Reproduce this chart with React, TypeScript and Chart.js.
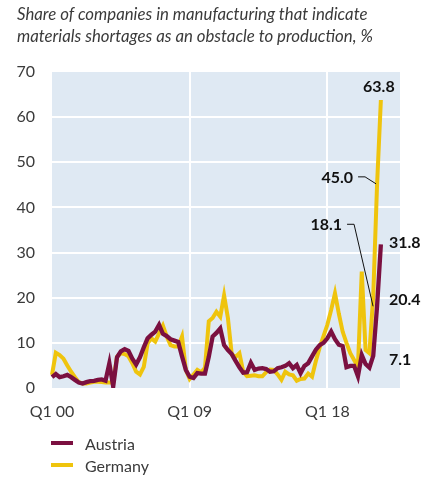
import React, { useEffect, useRef } from "react";
import { Chart, registerables } from "chart.js";

Chart.register(...registerables);

// ---- data ----
const startYear = 2000;
const quarterCount = 92; // Q1 2000 .. Q4 2022 axis range
const xTickLabels = ["Q1 00", "Q1 09", "Q1 18"];
const yTickValues = [0, 10, 20, 30, 40, 50, 60, 70];
const seriesNames = ["Austria", "Germany"];

const austria = [
  2.4, 3.1, 2.4, 2.6, 2.9, 2.4, 1.8, 1.2, 1.0, 1.3,
  1.5, 1.6, 1.8, 1.9, 1.6, 5.5, 0.3, 6.8, 8.1, 8.6,
  8.2, 6.5, 5.2, 6.8, 9.0, 11.0, 11.8, 12.5, 14.0, 12.0,
  11.5, 10.8, 10.5, 10.2, 7.0, 4.0, 2.5, 2.2, 3.3, 3.2,
  3.2, 6.9, 11.4, 12.2, 13.2, 9.5, 8.4, 7.5, 6.0, 4.6,
  3.4, 3.5, 5.6, 4.0, 4.3, 4.4, 4.2, 3.6, 3.7, 4.4,
  4.6, 4.9, 5.5, 4.4, 5.1, 3.3, 4.9, 5.5, 7.0, 8.5,
  9.5, 10.0, 11.0, 12.5, 10.8, 9.6, 9.3, 4.6, 4.9, 4.9,
  2.6, 7.3, 5.3, 4.5, 7.1, 18.1, 31.8,
];

const germany = [
  2.9, 7.8, 7.3, 6.5, 5.0, 3.6, 2.4, 1.3, 1.0, 1.0,
  1.2, 1.4, 1.4, 1.3, 1.2, 1.2, 1.2, 6.9, 7.7, 7.5,
  7.0, 5.5, 3.6, 3.0, 4.7, 9.9, 11.0, 10.3, 12.1, 13.8,
  11.4, 9.5, 9.2, 9.2, 11.4, 4.0, 2.0, 3.0, 4.0, 3.5,
  4.5, 14.8, 15.5, 16.9, 15.8, 20.5, 15.5, 7.5, 6.9, 7.7,
  3.6, 2.6, 2.7, 2.8, 2.6, 2.6, 3.5, 4.1, 4.0, 3.0,
  1.8, 3.6, 3.0, 2.8, 1.6, 2.0, 2.1, 3.2, 2.5, 6.0,
  9.0, 11.5, 14.0, 17.3, 21.0, 16.5, 12.5, 10.0, 7.7, 6.2,
  4.7, 25.8, 8.4, 7.7, 20.4, 45.0, 63.8,
];

const categories: string[] = [];
for (let i = 0; i < quarterCount; i++) {
  const yr = startYear + Math.floor(i / 4);
  categories.push(`Q${(i % 4) + 1} ${String(yr % 100).padStart(2, "0")}`);
}

// ---- styles ----
const AUSTRIA_COLOR = "#7b1040";
const GERMANY_COLOR = "#efc40d";
const PLOT_BG = "#dfe9f3";
const TEXT_COLOR = "#3a3a3a";
const FONT = "Lato, 'Open Sans', sans-serif";

const plotBgPlugin = {
  id: "plotBg",
  beforeDraw(chart: any) {
    const { ctx, chartArea } = chart;
    if (!chartArea) return;
    ctx.save();
    ctx.fillStyle = PLOT_BG;
    ctx.fillRect(chartArea.left, chartArea.top, chartArea.right - chartArea.left, chartArea.bottom - chartArea.top);
    ctx.restore();
  },
};

const annotationPlugin = {
  id: "valueLabels",
  afterDatasetsDraw(chart: any) {
    const { ctx, chartArea } = chart;
    const xs = chart.scales.x;
    const ys = chart.scales.y;
    const last = austria.length - 1;
    const px = (i: number) => xs.getPixelForValue(i);
    const py = (v: number) => ys.getPixelForValue(v);
    ctx.save();
    ctx.fillStyle = "#111";
    ctx.strokeStyle = "#111";
    ctx.lineWidth = 1;
    ctx.font = `bold 16px ${FONT}`;
    ctx.textBaseline = "middle";

    // Germany last value
    const gLast = germany[last];
    ctx.textAlign = "center";
    ctx.fillText(gLast.toFixed(1), px(last) - 2, py(gLast) - 13);

    // Germany previous quarter with leader
    const gPrev = germany[last - 1];
    let x0 = px(last - 1), y0 = py(gPrev);
    ctx.textAlign = "right";
    ctx.fillText(gPrev.toFixed(1), x0 - 24, y0 - 7);
    ctx.beginPath();
    ctx.moveTo(x0 - 19, y0 - 8);
    ctx.lineTo(x0 - 12, y0 - 8);
    ctx.lineTo(x0 - 1, y0 - 1);
    ctx.stroke();

    // Austria previous quarter with leader
    const aPrev = austria[last - 1];
    x0 = px(last - 1);
    y0 = py(aPrev);
    ctx.fillText(aPrev.toFixed(1), x0 - 35, y0 - 81);
    ctx.beginPath();
    ctx.moveTo(x0 - 30, y0 - 82);
    ctx.lineTo(x0 - 23, y0 - 82);
    ctx.lineTo(x0 - 4, y0);
    ctx.stroke();

    // right column labels
    ctx.textAlign = "left";
    const colX = chartArea.right - 11;
    ctx.fillText(austria[last].toFixed(1), colX, py(austria[last]) - 2);
    ctx.fillText(germany[last - 2].toFixed(1), colX, py(germany[last - 2]) + 4);
    ctx.fillText(austria[last - 2].toFixed(1), colX, py(austria[last - 2]) + 4);
    ctx.restore();
  },
};

export default function App() {
  const canvasRef = useRef<HTMLCanvasElement | null>(null);

  useEffect(() => {
    document.body.style.margin = "0";
    const canvas = canvasRef.current;
    if (!canvas) return;
    const chart = new Chart(canvas, {
      type: "line",
      data: {
        labels: categories,
        datasets: [
          {
            label: seriesNames[0],
            data: austria,
            borderColor: AUSTRIA_COLOR,
            backgroundColor: AUSTRIA_COLOR,
            borderWidth: 4.3,
            pointRadius: 0,
            tension: 0,
            borderJoinStyle: "miter",
            fill: false,
          },
          {
            label: seriesNames[1],
            data: germany,
            borderColor: GERMANY_COLOR,
            backgroundColor: GERMANY_COLOR,
            borderWidth: 4,
            pointRadius: 0,
            tension: 0,
            borderJoinStyle: "miter",
            fill: false,
          },
        ],
      },
      options: {
        animation: false,
        responsive: false,
        maintainAspectRatio: false,
        layout: { padding: { top: 72, right: 36, left: 0, bottom: 0 } },
        plugins: {
          legend: { display: false },
          tooltip: { enabled: false },
          title: { display: false },
        },
        scales: {
          x: {
            type: "category",
            offset: false,
            afterFit: (axis: any) => {
              axis.height = 90;
            },
            border: { display: false },
            grid: {
              drawTicks: false,
              lineWidth: 2,
              color: (c: any) =>
                c.index > 0 && xTickLabels.includes(categories[c.index]) ? "#ffffff" : "rgba(0,0,0,0)",
            },
            ticks: {
              autoSkip: false,
              maxRotation: 0,
              minRotation: 0,
              padding: 14,
              color: TEXT_COLOR,
              font: { family: FONT, size: 16 },
              callback: (_v: any, i: number) => (xTickLabels.includes(categories[i]) ? categories[i] : ""),
            },
          },
          y: {
            min: yTickValues[0],
            max: yTickValues[yTickValues.length - 1],
            afterFit: (axis: any) => {
              axis.width = 52;
            },
            afterBuildTicks: (axis: any) => {
              axis.ticks = yTickValues.map((v) => ({ value: v }));
            },
            border: { display: false },
            grid: {
              drawTicks: false,
              lineWidth: 2,
              color: (c: any) =>
                c.tick && (c.tick.value === yTickValues[0] || c.tick.value === yTickValues[yTickValues.length - 1])
                  ? "rgba(0,0,0,0)"
                  : "#ffffff",
            },
            ticks: {
              padding: 17,
              color: TEXT_COLOR,
              font: { family: FONT, size: 16 },
            },
          },
        },
      },
      plugins: [plotBgPlugin, annotationPlugin],
    } as any);
    return () => chart.destroy();
  }, []);

  const legendItem = (name: string, color: string, top: number) => (
    <div
      key={name}
      style={{ position: "absolute", left: 51, top, height: 22, display: "flex", alignItems: "center" }}
    >
      <span style={{ display: "inline-block", width: 22, height: 4, background: color }} />
      <span style={{ marginLeft: 12, fontFamily: FONT, fontSize: 16, color: TEXT_COLOR }}>{name}</span>
    </div>
  );

  return (
    <div style={{ position: "relative", width: 436, height: 478, background: "#fff", overflow: "hidden" }}>
      <canvas ref={canvasRef} width={436} height={478} style={{ position: "absolute", left: 0, top: 0 }} />
      <div
        style={{
          position: "absolute",
          left: 17,
          top: 3,
          fontFamily: FONT,
          fontStyle: "italic",
          fontSize: 16.8,
          lineHeight: "22px",
          color: TEXT_COLOR,
          whiteSpace: "nowrap",
        }}
      >
        Share of companies in manufacturing that indicate
        <br />
        materials shortages as an obstacle to production, %
      </div>
      {legendItem(seriesNames[0], AUSTRIA_COLOR, 432)}
      {legendItem(seriesNames[1], GERMANY_COLOR, 454)}
    </div>
  );
}
